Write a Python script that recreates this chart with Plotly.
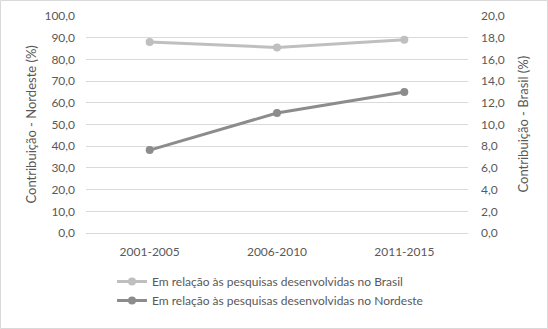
import plotly.graph_objects as go

categories = ["2001-2005", "2006-2010", "2011-2015"]
brasil = [17.6, 17.1, 17.8]
nordeste = [38.2, 55.3, 65.0]
left_ticks = [0, 10, 20, 30, 40, 50, 60, 70, 80, 90, 100]
right_ticks = [0, 2, 4, 6, 8, 10, 12, 14, 16, 18, 20]

font = "Lato, Open Sans, sans-serif"
tcol = "#595959"

fig = go.Figure()
fig.add_trace(go.Scatter(
    x=categories, y=brasil, yaxis="y2", mode="lines+markers",
    name="Em relação às pesquisas desenvolvidas no Brasil",
    line=dict(color="#BFBFBF", width=3), marker=dict(size=8, color="#BFBFBF")))
fig.add_trace(go.Scatter(
    x=categories, y=nordeste, mode="lines+markers",
    name="Em relação às pesquisas desenvolvidas no Nordeste",
    line=dict(color="#8C8C8C", width=3), marker=dict(size=8, color="#8C8C8C")))

fig.update_layout(
    width=548, height=329,
    margin=dict(l=86, r=80, t=16, b=96, autoexpand=False),
    paper_bgcolor="white", plot_bgcolor="white",
    font=dict(family=font, size=12, color=tcol),
    showlegend=True,
    legend=dict(x=112/548, xref="container", y=1 - 267/329, yref="container",
                yanchor="top", xanchor="left",
                orientation="v", font=dict(size=12, color=tcol),
                tracegroupgap=2, itemwidth=30, traceorder="normal"),
    xaxis=dict(showgrid=False, showline=True, linecolor="#D9D9D9", ticks="",
               range=[-0.5, 2.5], ticklabelstandoff=8,
               tickfont=dict(size=12, color=tcol)),
    yaxis=dict(range=[0, 100], tickvals=left_ticks,
               ticktext=[f"{v:.1f}".replace(".", ",") for v in left_ticks],
               showgrid=True, gridcolor="#D9D9D9", zeroline=False,
               ticklabelstandoff=10,
               tickfont=dict(size=12, color=tcol)),
    yaxis2=dict(range=[0, 20], tickvals=right_ticks, overlaying="y", side="right",
                ticktext=[f"{v:.1f}".replace(".", ",") for v in right_ticks],
                showgrid=False, zeroline=False, ticklabelstandoff=12,
                tickfont=dict(size=12, color=tcol)),
    annotations=[
        dict(text="Contribuição - Nordeste (%)", xref="paper", yref="paper",
             x=-56/382, y=0.5, textangle=-90, showarrow=False,
             font=dict(size=13, color=tcol), xanchor="center", yanchor="middle"),
        dict(text="Contribuição - Brasil (%)", xref="paper", yref="paper",
             x=1 + 54/382, y=0.5, textangle=-90, showarrow=False,
             font=dict(size=13, color=tcol), xanchor="center", yanchor="middle"),
    ],
    shapes=[dict(type="rect", xref="paper", yref="paper", x0=-85.5/382, x1=1+79.5/382,
                 y0=-95.5/217, y1=1+15.5/217, line=dict(color="#D9D9D9", width=1))],
)
fig.write_html("out.html", config={"displayModeBar": False},
               post_script="document.body.style.margin='0';")
